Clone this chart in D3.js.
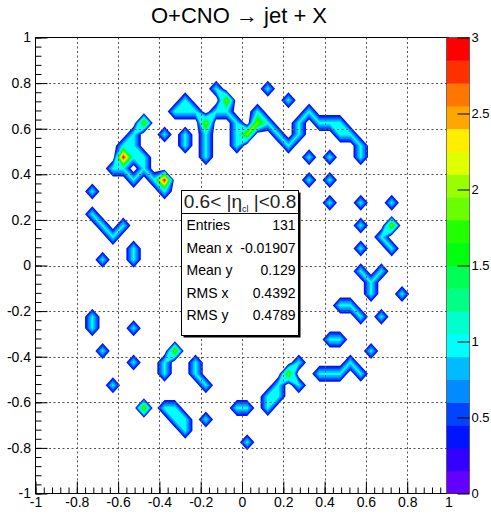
<!DOCTYPE html>
<html>
<head>
<meta charset="utf-8">
<script src="https://cdn.jsdelivr.net/npm/d3@7"></script>
<style>
  body { margin: 0; background: #fff; }
  svg { display: block; font-family: "Liberation Sans", Arial, Helvetica, sans-serif; }
</style>
</head>
<body>
<svg id="chart" width="491" height="515"></svg>
<script>
// ---- histogram definition: 40 x 40 bins of 0.05 on [-1, 1] x [-1, 1] ----
const xDomain = [-1, 1];
const yDomain = [-1, 1];
const binWidth = 0.05;
const zDomain = [0, 3];
const nContours = 20;

// non-empty bins: [x centre, y centre, entries]
const upperLeftCells = [
  [-0.475, 0.625, 2], [-0.525, 0.575, 1], [-0.575, 0.525, 1], [-0.525, 0.525, 1],
  [-0.575, 0.475, 3], [-0.625, 0.425, 1], [-0.525, 0.475, 1], [-0.475, 0.475, 1],
  [-0.575, 0.425, 1], [-0.525, 0.375, 1], [-0.475, 0.425, 1], [-0.425, 0.375, 1],
  [-0.375, 0.375, 3], [-0.375, 0.325, 1]
];
const upperArcCells = [
  [-0.325, 0.675, 1], [-0.275, 0.725, 1], [-0.275, 0.675, 1], [-0.225, 0.675, 1],
  [-0.175, 0.625, 2], [-0.175, 0.575, 1], [-0.175, 0.525, 1], [-0.175, 0.475, 1],
  [-0.125, 0.675, 1], [-0.125, 0.775, 1], [-0.075, 0.725, 2], [-0.075, 0.675, 1],
  [-0.025, 0.625, 1], [-0.025, 0.575, 1], [-0.025, 0.525, 1], [0.025, 0.575, 2],
  [0.075, 0.625, 2], [0.075, 0.675, 1], [0.125, 0.625, 1], [0.175, 0.575, 1],
  [0.225, 0.525, 1], [0.275, 0.575, 1], [0.275, 0.625, 1], [0.325, 0.675, 1],
  [0.375, 0.625, 1], [0.425, 0.625, 1], [0.475, 0.625, 1], [0.475, 0.575, 1],
  [0.525, 0.575, 1], [0.575, 0.525, 1], [0.575, 0.475, 1]
];
const scatteredCells = [
  [-0.375, 0.575, 1], [-0.275, 0.525, 1], [-0.275, 0.575, 1], [0.125, 0.775, 1],
  [0.225, 0.725, 1], [0.325, 0.475, 1], [0.425, 0.475, 1], [0.325, 0.375, 1],
  [0.425, 0.375, 1], [0.425, 0.275, 1], [0.575, 0.275, 1], [0.725, 0.275, 1],
  [0.575, 0.175, 1], [0.575, 0.075, 1], [-0.725, 0.325, 1]
];
const rightCells = [
  [0.725, 0.175, 2], [0.675, 0.125, 1], [0.725, 0.075, 1], [0.575, -0.025, 1],
  [0.625, -0.075, 1], [0.675, -0.025, 1], [0.625, -0.125, 1], [0.475, -0.175, 1],
  [0.525, -0.175, 1], [0.575, -0.225, 1], [0.675, -0.225, 1], [0.775, -0.125, 1],
  [0.625, -0.375, 1], [0.425, -0.325, 1], [0.475, -0.325, 1], [0.375, -0.475, 1],
  [0.425, -0.475, 1], [0.475, -0.475, 1], [0.525, -0.425, 1], [0.575, -0.475, 1]
];
const lowerCells = [
  [0.125, -0.625, 1], [0.125, -0.575, 1], [0.175, -0.575, 1], [0.175, -0.525, 1],
  [0.225, -0.475, 2], [0.275, -0.425, 1], [0.275, -0.525, 1], [-0.025, -0.625, 1],
  [0.025, -0.625, 1], [0.025, -0.775, 1], [-0.175, -0.675, 1], [-0.375, -0.625, 1],
  [-0.325, -0.625, 1], [-0.325, -0.675, 1], [-0.275, -0.675, 1], [-0.275, -0.725, 1],
  [-0.225, -0.425, 1], [-0.225, -0.475, 1], [-0.175, -0.525, 1], [-0.325, -0.375, 2],
  [-0.375, -0.425, 1], [-0.375, -0.475, 1], [-0.475, -0.625, 2], [-0.625, -0.525, 1],
  [-0.525, -0.425, 1], [-0.675, -0.375, 1], [-0.525, -0.275, 1], [-0.725, -0.275, 1],
  [-0.725, -0.225, 1]
];
const leftCells = [
  [-0.725, 0.225, 1], [-0.675, 0.175, 1], [-0.625, 0.125, 1], [-0.575, 0.175, 1],
  [-0.675, 0.025, 1], [-0.525, 0.025, 1], [-0.525, 0.075, 1]
];

const axisTicks = [-1, -0.8, -0.6, -0.4, -0.2, 0, 0.2, 0.4, 0.6, 0.8, 1];
const gridTicks = [-0.8, -0.6, -0.4, -0.2, 0, 0.2, 0.4, 0.6, 0.8];
const zTicks = [0, 0.5, 1, 1.5, 2, 2.5, 3];

const titleText = "O+CNO \u2192 jet + X";
const statsRows = [
  ["Entries", "131"],
  ["Mean x", "-0.01907"],
  ["Mean y", "0.129"],
  ["RMS x", "0.4392"],
  ["RMS y", "0.4789"]
];

// ---- layout ----
const svg = d3.select("#chart");
const frame = { left: 35.5, right: 448.5, top: 37.5, bottom: 493.5 };
const x = d3.scaleLinear().domain(xDomain).range([frame.left, frame.right]);
const y = d3.scaleLinear().domain(yDomain).range([frame.bottom, frame.top]);
const palX0 = 446.5, palX1 = 469.5;
const z = d3.scaleLinear().domain(zDomain).range([frame.bottom, frame.top]);

// pretty palette: 50 hues from violet to red, sampled for 20 contour bands
function bandColor(k) {
  const idx = Math.floor((k + 0.99) * 50 / nContours);
  if (idx >= 49) return "#ff0000";
  const hue = 280 - (idx + 1) * 5.6;
  return d3.hsl(hue, 1, 0.5).formatHex();
}
const levelStep = (zDomain[1] - zDomain[0]) / nContours;

// ---- lattice of bin contents (one empty node of padding on each side) ----
const nBins = Math.round((xDomain[1] - xDomain[0]) / binWidth);
const N = nBins + 2;
const negValues = new Float64Array(N * N);
const allCells = [].concat(upperLeftCells, upperArcCells, scatteredCells, rightCells, lowerCells, leftCells);
allCells.forEach(([cx, cy, n]) => {
  const i = Math.round((cx - xDomain[0]) / binWidth - 0.5) + 1;
  const j = Math.round((cy - yDomain[0]) / binWidth - 0.5) + 1;
  negValues[j * N + i] -= n;
});

// marching squares on the negated field traces the "below level" regions;
// their complement (even-odd against the lattice outline) is the band fill,
// so diagonal neighbours above a level stay joined
const project = d3.geoTransform({
  point(px, py) {
    this.stream.point(x(xDomain[0] + (px - 1) * binWidth), y(yDomain[0] + (py - 1) * binWidth));
  }
});
const path = d3.geoPath(project);
const outline = path({ type: "Polygon", coordinates: [[[0, 0], [N, 0], [N, N], [0, N], [0, 0]]] });

const firstDrawn = 2;
const levelIdx = d3.range(firstDrawn, nContours);
const contourGen = d3.contours().size([N, N]);

svg.append("rect").attr("width", 491).attr("height", 515).attr("fill", "#fff");

const defs = svg.append("defs");
defs.append("clipPath").attr("id", "frameClip")
  .append("rect")
  .attr("x", frame.left).attr("y", frame.top)
  .attr("width", frame.right - frame.left).attr("height", frame.bottom - frame.top);

svg.append("g")
  .attr("clip-path", "url(#frameClip)")
  .selectAll("path")
  .data(levelIdx)
  .join("path")
  .attr("d", k => outline + path(contourGen.contour(negValues, -(zDomain[0] + k * levelStep))))
  .attr("fill-rule", "evenodd")
  .attr("fill", k => bandColor(k))
  .attr("stroke", "none");

// ---- grid ----
const grid = svg.append("g").attr("stroke", "#555").attr("stroke-width", 1).attr("stroke-dasharray", "2,2.5");
grid.selectAll("line.v").data(gridTicks).join("line")
  .attr("x1", d => Math.round(x(d)) + 0.5).attr("x2", d => Math.round(x(d)) + 0.5)
  .attr("y1", frame.top).attr("y2", frame.bottom);
grid.selectAll("line.h").data(gridTicks).join("line")
  .attr("y1", d => Math.round(y(d)) + 0.5).attr("y2", d => Math.round(y(d)) + 0.5)
  .attr("x1", frame.left).attr("x2", frame.right);

// ---- axes (ticks inside the frame) ----
const minorTicks = d3.range(-1, 1.0001, 0.04).map(v => +v.toFixed(2));
const fmt = d => (Math.abs(d) < 1e-9 ? "0" : String(d));

function styleAxis(g, size = 14) {
  g.select(".domain").remove();
  g.selectAll("line").attr("stroke", "#000");
  g.selectAll("text").attr("font-size", size).attr("fill", "#000")
    .attr("font-family", "'Liberation Sans', Arial, sans-serif");
}

svg.append("g").attr("transform", `translate(0,${frame.bottom})`)
  .call(d3.axisBottom(x).tickValues(minorTicks).tickSize(-6).tickFormat(""))
  .call(styleAxis);
svg.append("g").attr("transform", `translate(0,${frame.bottom})`)
  .call(d3.axisBottom(x).tickValues(axisTicks).tickSize(-12).tickPadding(3.5).tickFormat(fmt))
  .call(styleAxis);
svg.append("g").attr("transform", `translate(${frame.left},0)`)
  .call(d3.axisLeft(y).tickValues(minorTicks).tickSize(-6).tickFormat(""))
  .call(styleAxis);
svg.append("g").attr("transform", `translate(${frame.left},0)`)
  .call(d3.axisLeft(y).tickValues(axisTicks).tickSize(-12).tickPadding(4.5).tickFormat(fmt))
  .call(styleAxis);

// frame
svg.append("rect")
  .attr("x", frame.left).attr("y", frame.top)
  .attr("width", frame.right - frame.left).attr("height", frame.bottom - frame.top)
  .attr("fill", "none").attr("stroke", "#000").attr("stroke-width", 1);

// ---- colour palette ----
const bands = d3.range(nContours);
svg.append("g").selectAll("rect").data(bands).join("rect")
  .attr("x", palX0).attr("width", palX1 - palX0)
  .attr("y", k => z(zDomain[0] + (k + 1) * levelStep))
  .attr("height", k => z(zDomain[0] + k * levelStep) - z(zDomain[0] + (k + 1) * levelStep) + 0.5)
  .attr("fill", k => bandColor(k));
svg.append("rect")
  .attr("x", palX0).attr("y", frame.top)
  .attr("width", palX1 - palX0).attr("height", frame.bottom - frame.top)
  .attr("fill", "none").attr("stroke", "#333").attr("stroke-width", 0.6);
svg.append("g").attr("transform", `translate(${palX1},0)`)
  .call(d3.axisRight(z).tickValues(zTicks).tickSize(-12).tickPadding(2).tickFormat(fmt))
  .call(g => styleAxis(g, 13));

// ---- title ----
svg.append("text")
  .attr("x", 239).attr("y", 23)
  .attr("text-anchor", "middle")
  .attr("font-size", 22)
  .attr("fill", "#000")
  .text(titleText);

// ---- statistics box ----
const box = { x0: 181.5, x1: 298.5, y0: 190.5, y1: 335.5, sep: 213.5 };
const stats = svg.append("g");
stats.append("rect")
  .attr("x", box.x0 + 2).attr("y", box.y0 + 2)
  .attr("width", box.x1 - box.x0).attr("height", box.y1 - box.y0)
  .attr("fill", "#000");
stats.append("rect")
  .attr("x", box.x0).attr("y", box.y0)
  .attr("width", box.x1 - box.x0).attr("height", box.y1 - box.y0)
  .attr("fill", "#fff").attr("stroke", "#000").attr("stroke-width", 1);
stats.append("line")
  .attr("x1", box.x0).attr("x2", box.x1).attr("y1", box.sep).attr("y2", box.sep)
  .attr("stroke", "#000");

const header = stats.append("text")
  .attr("x", (box.x0 + box.x1) / 2).attr("y", 208)
  .attr("text-anchor", "middle").attr("font-size", 19).attr("fill", "#222");
header.append("tspan").text("0.6< |\u03b7");
header.append("tspan").attr("font-size", 9).attr("dy", 4).text("cl");
header.append("tspan").attr("dy", -4).text(" |<0.8");

const rowY = d3.scaleLinear().domain([0, statsRows.length - 1]).range([230, 320]);
stats.selectAll("text.lab").data(statsRows).join("text")
  .attr("class", "lab")
  .attr("x", box.x0 + 5).attr("y", (d, i) => rowY(i))
  .attr("font-size", 14).attr("fill", "#000")
  .text(d => d[0]);
stats.selectAll("text.val").data(statsRows).join("text")
  .attr("class", "val")
  .attr("x", box.x1 - 3).attr("y", (d, i) => rowY(i))
  .attr("text-anchor", "end")
  .attr("font-size", 14).attr("fill", "#000")
  .text(d => d[1]);
</script>
</body>
</html>
